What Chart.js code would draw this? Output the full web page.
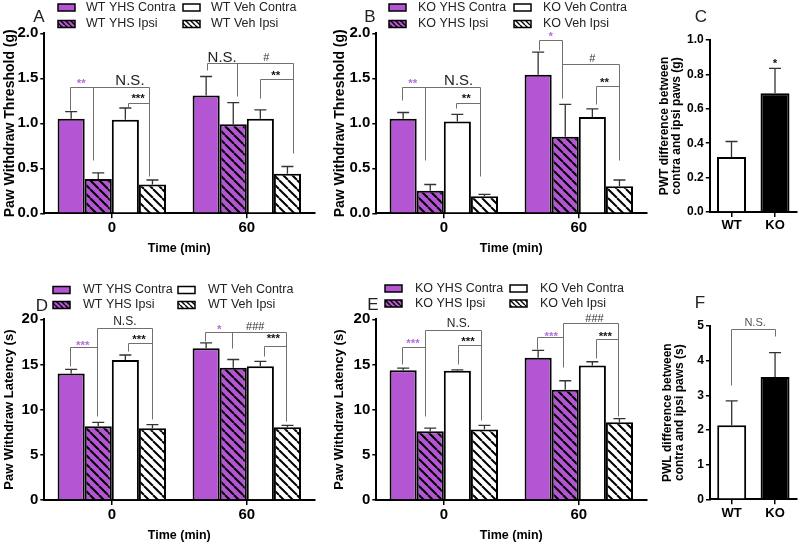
<!DOCTYPE html>
<html lang="en">
<head>
<meta charset="utf-8">
<title>PWT / PWL</title>
<script src="https://cdn.jsdelivr.net/npm/chart.js@4.4.1/dist/chart.umd.min.js"></script>
<style>
    html, body { margin: 0; padding: 0; background: #fff; overflow: hidden; }
    body { width: 800px; height: 543px; position: relative; }
    canvas { position: absolute; }
</style>
</head>
<body>
<canvas id="painelA"></canvas>
<canvas id="painelB"></canvas>
<canvas id="painelC"></canvas>
<canvas id="painelD"></canvas>
<canvas id="painelE"></canvas>
<canvas id="painelF"></canvas>
<script>
// ====== DADOS ======
const grupos = ['0', '60'];           // Time (min)
const genotipos = ['WT', 'KO'];
const nomesWT = ['WT YHS Contra', 'WT YHS Ipsi', 'WT Veh Contra', 'WT Veh Ipsi'];
const nomesKO = ['KO YHS Contra', 'KO YHS Ipsi', 'KO Veh Contra', 'KO Veh Ipsi'];

// A - PWT (g), WT
const pwtWtYhsContra = [1.05, 1.31];
const pwtWtYhsIpsi = [0.38, 0.99];
const pwtWtVehContra = [1.04, 1.05];
const pwtWtVehIpsi = [0.32, 0.44];
const errPwtWtYhsContra = [0.08, 0.21];
const errPwtWtYhsIpsi = [0.07, 0.24];
const errPwtWtVehContra = [0.13, 0.10];
const errPwtWtVehIpsi = [0.05, 0.08];

// B - PWT (g), KO
const pwtKoYhsContra = [1.05, 1.54];
const pwtKoYhsIpsi = [0.25, 0.85];
const pwtKoVehContra = [1.02, 1.07];
const pwtKoVehIpsi = [0.19, 0.30];
const errPwtKoYhsContra = [0.07, 0.25];
const errPwtKoYhsIpsi = [0.07, 0.36];
const errPwtKoVehContra = [0.08, 0.09];
const errPwtKoVehIpsi = [0.02, 0.07];

// C - diferenca PWT contra/ipsi
const difPwt = [0.32, 0.69];
const errDifPwt = [0.09, 0.145];

// D - PWL (s), WT
const pwlWtYhsContra = [14.0, 16.8];
const pwlWtYhsIpsi = [8.15, 14.65];
const pwlWtVehContra = [15.5, 14.8];
const pwlWtVehIpsi = [7.95, 8.05];
const errPwlWtYhsContra = [0.45, 0.6];
const errPwlWtYhsIpsi = [0.45, 0.9];
const errPwlWtVehContra = [0.55, 0.55];
const errPwlWtVehIpsi = [0.4, 0.2];

// E - PWL (s), KO
const pwlKoYhsContra = [14.35, 15.75];
const pwlKoYhsIpsi = [7.6, 12.2];
const pwlKoVehContra = [14.3, 14.9];
const pwlKoVehIpsi = [7.8, 8.6];
const errPwlKoYhsContra = [0.25, 0.8];
const errPwlKoYhsIpsi = [0.35, 1.0];
const errPwlKoVehContra = [0.1, 0.4];
const errPwlKoVehIpsi = [0.45, 0.4];

// F - diferenca PWL contra/ipsi
const difPwl = [2.14, 3.53];
const errDifPwl = [0.7, 0.7];

// ====== ANOTACOES DE SIGNIFICANCIA ======
// x = indice da barra (0..n-1, com fracao), y = valor no eixo
const linhasA = [
    [[-0.06, 1.15], [-0.06, 1.40], [2.89, 1.40], [2.89, 0.42]],
    [[0.81, 1.40], [0.81, 0.59]],
    [[2.1, 1.18], [2.1, 1.23], [2.89, 1.23]],
    [[4.02, 1.59], [4.02, 1.67], [7.2, 1.67], [7.2, 0.67]],
    [[5.13, 1.67], [5.13, 1.30]],
    [[5.97, 1.28], [5.97, 1.49], [7.2, 1.49]]
];
const textosA = [['**', 0.37, 1.47, 'roxo'], ['N.S.', 2.17, 1.47, 'ns'], ['***', 2.47, 1.30, 'preto'],
    ['N.S.', 4.59, 1.73, 'ns'], ['#', 6.22, 1.73, 'preto'], ['**', 6.57, 1.56, 'preto']];

const linhasB = [
    [[-0.05, 1.26], [-0.05, 1.40], [2.85, 1.40], [2.85, 0.41]],
    [[0.82, 1.40], [0.82, 0.59]],
    [[1.96, 1.17], [1.96, 1.23], [2.85, 1.23]],
    [[4.04, 1.81], [4.04, 1.93], [4.88, 1.93], [4.88, 1.28]],
    [[4.88, 1.66], [6.97, 1.66], [6.97, 0.59]],
    [[6.12, 1.22], [6.12, 1.41], [6.97, 1.41]]
];
const textosB = [['**', 0.35, 1.47, 'roxo'], ['N.S.', 2.05, 1.47, 'ns'], ['**', 2.33, 1.30, 'preto'],
    ['*', 4.46, 1.99, 'roxo'], ['#', 6.0, 1.72, 'preto'], ['**', 6.45, 1.48, 'preto']];

const linhasC = [];
const textosC = [['*', 1, 0.88, 'preto']];

const linhasD = [
    [[-0.04, 14.8], [-0.04, 16.96], [0.96, 16.96]],
    [[0.96, 9.33], [0.96, 19.04], [2.99, 19.04], [2.99, 8.96]],
    [[2.1, 16.5], [2.1, 17.4], [2.99, 17.4]],
    [[3.98, 17.6], [3.98, 18.6], [6.95, 18.6], [6.95, 8.7]],
    [[4.94, 18.6], [4.94, 16.85]],
    [[6.14, 15.9], [6.14, 17.0], [6.95, 17.0]]
];
const textosD = [['***', 0.43, 17.4, 'roxo'], ['N.S.', 1.98, 19.7, 'ns'], ['***', 2.5, 18.1, 'preto'],
    ['*', 4.48, 19.2, 'roxo'], ['###', 5.81, 19.2, 'preto'], ['***', 6.48, 18.2, 'preto']];

const linhasE = [
    [[-0.05, 15.0], [-0.05, 16.96], [0.81, 16.96]],
    [[0.81, 9.26], [0.81, 18.8], [2.88, 18.8], [2.88, 8.9]],
    [[2.04, 15.0], [2.04, 17.2], [2.88, 17.2]],
    [[3.97, 16.7], [3.97, 18.07], [4.91, 18.07]],
    [[4.91, 14.7], [4.91, 19.56], [6.95, 19.56], [6.95, 9.33]],
    [[6.14, 15.7], [6.14, 17.85], [6.95, 17.85]]
];
const textosE = [['***', 0.36, 17.6, 'roxo'], ['N.S.', 2.04, 19.56, 'ns'], ['***', 2.39, 17.85, 'preto'],
    ['***', 4.48, 18.4, 'roxo'], ['###', 6.08, 20.0, 'preto'], ['***', 6.48, 18.4, 'preto']];

const linhasF = [[[-0.03, 3.3], [-0.03, 4.9], [1, 4.9], [1, 4.71]]];
const textosF = [['N.S.', 0.54, 5.08, 'ns']];

document.addEventListener('DOMContentLoaded', () => {

    const FONTE = '"Liberation Sans", Arial, Helvetica, sans-serif';
    const ROXO = '#b455d3';
    const ROXO_TEXTO = '#b071da';

    // --- Hachuras (\\\) ---
    function criarHachura(fundo, passo, espessura) {
        const c = document.createElement('canvas');
        c.width = passo; c.height = passo;
        const g = c.getContext('2d');
        g.fillStyle = fundo;
        g.fillRect(0, 0, passo, passo);
        g.strokeStyle = '#000';
        g.lineWidth = espessura;
        g.beginPath();
        [-passo, 0, passo].forEach(d => { g.moveTo(d, 0); g.lineTo(d + passo, passo); });
        g.stroke();
        return g.createPattern(c, 'repeat');
    }

    const preenchimentos = [ROXO, criarHachura(ROXO, 9, 2), '#ffffff', criarHachura('#ffffff', 9, 2)];
    const preenchLegenda = [ROXO, criarHachura(ROXO, 5, 1.4), '#ffffff', criarHachura('#ffffff', 5, 1.4)];

    // --- Plugin: barras de erro, colchetes, legenda e letra do painel ---
    function pluginAnotacoes(cfg) {
        return {
            id: 'anotacoes',
            afterDatasetsDraw(chart) {
                const ctx = chart.ctx;
                const y = chart.scales.y;
                ctx.save();
                ctx.strokeStyle = '#333';
                ctx.lineWidth = 1.3;
                chart.data.datasets.forEach((ds, i) => {
                    const meta = chart.getDatasetMeta(i);
                    meta.data.forEach((barra, j) => {
                        const topo = y.getPixelForValue(ds.data[j] + ds.erros[j]);
                        ctx.beginPath();
                        ctx.moveTo(barra.x, barra.y);
                        ctx.lineTo(barra.x, topo);
                        ctx.moveTo(barra.x - 6, topo);
                        ctx.lineTo(barra.x + 6, topo);
                        ctx.stroke();
                    });
                });
                ctx.restore();
            },
            afterDraw(chart) {
                const ctx = chart.ctx;
                const y = chart.scales.y;
                const n = chart.data.datasets.length;

                // centros das barras em ordem
                const centros = [];
                let largura = 0;
                for (let g = 0; g < chart.data.labels.length; g++) {
                    for (let k = 0; k < n; k++) {
                        const b = chart.getDatasetMeta(k).data[g];
                        centros.push(b.x);
                        largura = b.width;
                    }
                }
                const px = p => {
                    const m = centros.length;
                    if (p <= 0) return centros[0] + p * largura;
                    if (p >= m - 1) return centros[m - 1] + (p - (m - 1)) * largura;
                    const i = Math.floor(p);
                    return centros[i] + (p - i) * (centros[i + 1] - centros[i]);
                };

                ctx.save();
                ctx.strokeStyle = '#707070';
                ctx.lineWidth = 1;
                cfg.linhas.forEach(linha => {
                    ctx.beginPath();
                    linha.forEach(([p, v], i) => {
                        const xx = Math.round(px(p)) + 0.5;
                        const yy = Math.round(y.getPixelForValue(v)) + 0.5;
                        if (i === 0) ctx.moveTo(xx, yy); else ctx.lineTo(xx, yy);
                    });
                    ctx.stroke();
                });

                ctx.textAlign = 'center';
                ctx.textBaseline = 'middle';
                cfg.textos.forEach(([t, p, v, tipo]) => {
                    let tam = 11;
                    if (tipo === 'ns') {
                        tam = cfg.tamNS;
                        ctx.font = `${tam}px ${FONTE}`;
                        ctx.fillStyle = cfg.corNS || '#222';
                    } else if (t.includes('*')) {
                        tam = 11.5;
                        ctx.font = `bold ${tam}px ${FONTE}`;
                        ctx.fillStyle = tipo === 'roxo' ? ROXO_TEXTO : '#111';
                    } else {
                        ctx.font = `${tam}px ${FONTE}`;
                        ctx.fillStyle = '#333';
                    }
                    let yy = y.getPixelForValue(v);
                    if (t.includes('*')) yy += tam * 0.25;
                    ctx.fillText(t, px(p), yy);
                });

                // legenda em duas colunas
                if (cfg.nomes) {
                    ctx.textAlign = 'left';
                    ctx.font = `12.5px ${FONTE}`;
                    cfg.nomes.forEach((nome, i) => {
                        const x0 = cfg.legenda.cols[Math.floor(i / 2)];
                        const y0 = cfg.legenda.rows[i % 2];
                        ctx.fillStyle = preenchLegenda[i];
                        ctx.fillRect(x0, y0 - 3.5, 17, 7);
                        ctx.strokeStyle = '#000';
                        ctx.lineWidth = 1.5;
                        ctx.strokeRect(x0, y0 - 3.5, 17, 7);
                        ctx.fillStyle = '#222';
                        ctx.fillText(nome, x0 + cfg.legenda.dx, y0);
                    });
                }

                // letra do painel
                ctx.textAlign = 'center';
                ctx.font = `17px ${FONTE}`;
                ctx.fillStyle = '#222';
                ctx.fillText(cfg.letra.t, cfg.letra.x, cfg.letra.y);
                ctx.restore();
            }
        };
    }

    // --- Criacao de cada painel ---
    function criarPainel(cfg) {
        const canvas = document.getElementById(cfg.id);
        canvas.width = cfg.w;
        canvas.height = cfg.h;
        canvas.style.left = cfg.left + 'px';
        canvas.style.top = cfg.top + 'px';
        canvas.style.width = cfg.w + 'px';
        canvas.style.height = cfg.h + 'px';

        let datasets;
        if (cfg.series) {
            datasets = cfg.series.map((s, i) => ({
                label: cfg.nomes[i],
                data: s[0],
                erros: s[1],
                backgroundColor: preenchimentos[i],
                borderColor: '#000',
                borderWidth: 2,
                categoryPercentage: 0.803,
                barPercentage: 1.0
            }));
        } else {
            datasets = [{
                label: cfg.id,
                data: cfg.valores,
                erros: cfg.erros,
                backgroundColor: ['#ffffff', '#000000'],
                borderColor: '#000',
                borderWidth: 2,
                categoryPercentage: 0.667,
                barPercentage: 1.0
            }];
        }

        return new Chart(canvas.getContext('2d'), {
            type: 'bar',
            data: { labels: cfg.categorias, datasets: datasets },
            options: {
                responsive: false,
                animation: false,
                devicePixelRatio: 1,
                layout: { padding: { top: cfg.topo, left: cfg.esq, right: cfg.dir, bottom: 0 } },
                plugins: { legend: { display: false }, tooltip: { enabled: false } },
                scales: {
                    x: {
                        grid: { drawOnChartArea: false, offset: false, tickLength: 5, color: '#000', lineWidth: 1.5 },
                        border: { color: '#000', width: 2 },
                        ticks: { color: '#000', padding: 1, maxRotation: 0,
                                 font: { family: FONTE, size: cfg.fonteCat, weight: 'bold' } },
                        title: { display: !!cfg.tituloX, text: cfg.tituloX, color: '#000',
                                 padding: { top: 0, bottom: 0 },
                                 font: { family: FONTE, size: 12.5, weight: 'bold' } },
                        afterFit: s => { s.height = cfg.h - cfg.base; }
                    },
                    y: {
                        min: 0,
                        max: cfg.max,
                        grid: { drawOnChartArea: false, tickLength: 4, color: '#000', lineWidth: 1.5 },
                        border: { color: '#000', width: 2 },
                        ticks: { stepSize: cfg.passo, color: '#000', padding: 2,
                                 callback: v => v.toFixed(cfg.casas),
                                 font: { family: FONTE, size: cfg.fonteTick, weight: 'bold' } },
                        title: { display: true, text: cfg.tituloY, color: '#000',
                                 padding: { top: 2, bottom: 0 },
                                 font: { family: FONTE, size: cfg.fonteTituloY, weight: 'bold', lineHeight: cfg.alturaLinha || 1.2 } },
                        afterFit: s => { s.width = cfg.larguraY; }
                    }
                }
            },
            plugins: [pluginAnotacoes(cfg)]
        });
    }

    criarPainel({
        id: 'painelA', left: 0, top: 0, w: 322, h: 256, topo: 33.3, base: 213.3, esq: 0, larguraY: 44.3, dir: 7.7,
        max: 2, passo: 0.5, casas: 1, fonteTick: 15, fonteCat: 15,
        tituloY: 'Paw Withdraw Threshold (g)', fonteTituloY: 14, tituloX: 'Time (min)',
        categorias: grupos, nomes: nomesWT,
        series: [[pwtWtYhsContra, errPwtWtYhsContra], [pwtWtYhsIpsi, errPwtWtYhsIpsi],
                 [pwtWtVehContra, errPwtWtVehContra], [pwtWtVehIpsi, errPwtWtVehIpsi]],
        legenda: { cols: [58, 183], rows: [7.5, 24], dx: 28 }, letra: { t: 'A', x: 39, y: 17 },
        linhas: linhasA, textos: textosA, tamNS: 15
    });

    criarPainel({
        id: 'painelB', left: 320, top: 0, w: 328, h: 256, topo: 33.3, base: 213.3, esq: 10, larguraY: 46.3, dir: 1.7,
        max: 2, passo: 0.5, casas: 1, fonteTick: 15, fonteCat: 15,
        tituloY: 'Paw Withdraw Threshold (g)', fonteTituloY: 14, tituloX: 'Time (min)',
        categorias: grupos, nomes: nomesKO,
        series: [[pwtKoYhsContra, errPwtKoYhsContra], [pwtKoYhsIpsi, errPwtKoYhsIpsi],
                 [pwtKoVehContra, errPwtKoVehContra], [pwtKoVehIpsi, errPwtKoVehIpsi]],
        legenda: { cols: [69, 194], rows: [7.5, 24], dx: 29 }, letra: { t: 'B', x: 50, y: 17 },
        linhas: linhasB, textos: textosB, tamNS: 15
    });

    criarPainel({
        id: 'painelC', left: 648, top: 0, w: 152, h: 240, topo: 40, base: 212, esq: 9, larguraY: 52.75, dir: 3.25,
        max: 1, passo: 0.2, casas: 1, fonteTick: 12, fonteCat: 13,
        tituloY: ['PWT difference between', 'contra and ipsi paws (g)'], fonteTituloY: 12, alturaLinha: 1.0,
        categorias: genotipos, valores: difPwt, erros: errDifPwt,
        letra: { t: 'C', x: 53, y: 17 },
        linhas: linhasC, textos: textosC, tamNS: 11
    });

    // linha de baixo: canvas comeca em y=270 para a legenda nao ser cortada
    criarPainel({
        id: 'painelD', left: 0, top: 270, w: 322, h: 273, topo: 49.3, base: 230, esq: 0, larguraY: 44.3, dir: 7.7,
        max: 20, passo: 5, casas: 0, fonteTick: 15, fonteCat: 15,
        tituloY: 'Paw Withdraw Latency (s)', fonteTituloY: 13, tituloX: 'Time (min)',
        categorias: grupos, nomes: nomesWT,
        series: [[pwlWtYhsContra, errPwlWtYhsContra], [pwlWtYhsIpsi, errPwlWtYhsIpsi],
                 [pwlWtVehContra, errPwlWtVehContra], [pwlWtVehIpsi, errPwlWtVehIpsi]],
        legenda: { cols: [53, 178], rows: [20, 35], dx: 30 }, letra: { t: 'D', x: 42, y: 36 },
        linhas: linhasD, textos: textosD, tamNS: 12
    });

    criarPainel({
        id: 'painelE', left: 320, top: 270, w: 328, h: 273, topo: 49.3, base: 230, esq: 10, larguraY: 46.3, dir: 1.7,
        max: 20, passo: 5, casas: 0, fonteTick: 15, fonteCat: 15,
        tituloY: 'Paw Withdraw Latency (s)', fonteTituloY: 13, tituloX: 'Time (min)',
        categorias: grupos, nomes: nomesKO,
        series: [[pwlKoYhsContra, errPwlKoYhsContra], [pwlKoYhsIpsi, errPwlKoYhsIpsi],
                 [pwlKoVehContra, errPwlKoVehContra], [pwlKoVehIpsi, errPwlKoVehIpsi]],
        legenda: { cols: [65, 190], rows: [18.5, 33.5], dx: 30 }, letra: { t: 'E', x: 53, y: 35 },
        linhas: linhasE, textos: textosE, tamNS: 12
    });

    criarPainel({
        id: 'painelF', left: 648, top: 270, w: 152, h: 273, topo: 56, base: 229.3, esq: 12, larguraY: 50, dir: 3.25,
        max: 5, passo: 1, casas: 0, fonteTick: 12, fonteCat: 13,
        tituloY: ['PWL difference between', 'contra and ipsi paws (s)'], fonteTituloY: 12, alturaLinha: 1.0,
        categorias: genotipos, valores: difPwl, erros: errDifPwl,
        letra: { t: 'F', x: 52, y: 33 },
        linhas: linhasF, textos: textosF, tamNS: 11, corNS: '#555'
    });
});
</script>
</body>
</html>
